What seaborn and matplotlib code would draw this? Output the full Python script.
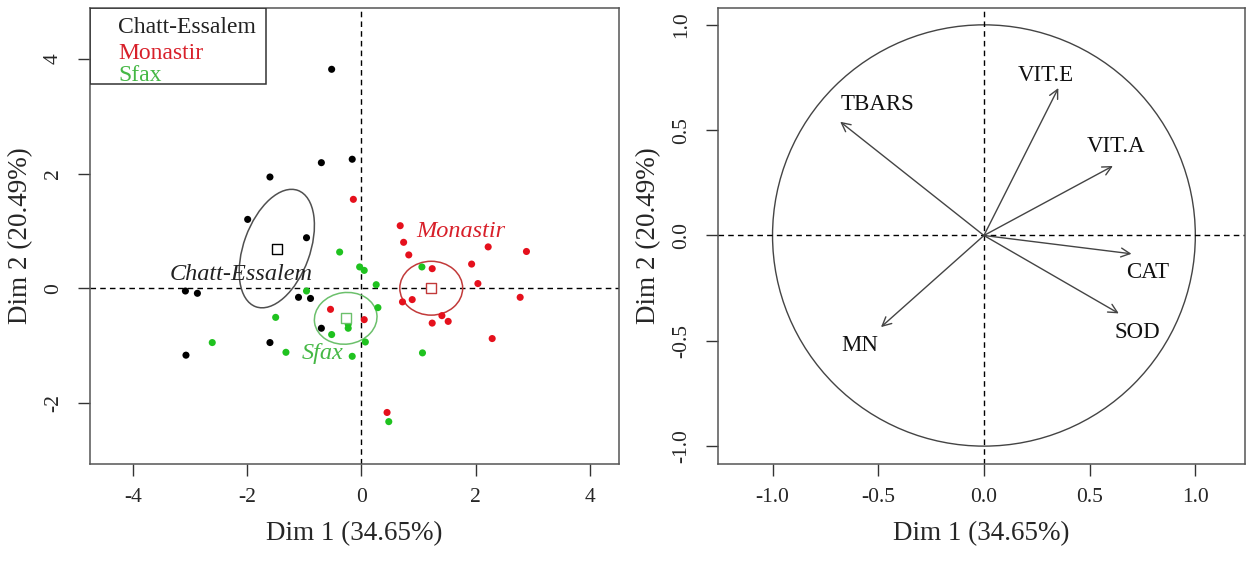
#! /usr/bin/env python3

# imports
import matplotlib.pyplot as plt
from matplotlib.patches import Ellipse, Circle, Rectangle
import seaborn as sns
import pandas as pd


# individuals factor map (Dim 1 / Dim 2 coordinates)
chatt_x = [-0.52, -0.70, -0.16, -1.60, -1.99, -0.96, -3.08, -2.87, -1.10, -0.89, -0.70, -1.60, -3.07]
chatt_y = [3.82, 2.19, 2.25, 1.94, 1.20, 0.88, -0.05, -0.09, -0.16, -0.18, -0.70, -0.95, -1.17]

monastir_x = [-0.14, 0.68, 0.74, 0.83, 2.22, 2.89, 1.93, 2.04, 2.78, 1.24,
              0.72, 0.89, 1.41, 1.52, 1.24, 2.29, 0.05, 0.45, -0.54]
monastir_y = [1.55, 1.09, 0.80, 0.58, 0.72, 0.64, 0.42, 0.08, -0.16, 0.34,
              -0.24, -0.20, -0.48, -0.58, -0.61, -0.88, -0.55, -2.17, -0.37]

sfax_x = [-0.38, -0.03, 0.05, -0.96, -1.50, -2.61, -1.32, -0.52, -0.23, -0.23,
          -0.16, 1.06, 0.26, 0.29, 0.07, 1.07, 0.48]
sfax_y = [0.63, 0.37, 0.31, -0.05, -0.51, -0.95, -1.12, -0.81, -0.63, -0.70,
          -1.19, 0.37, 0.06, -0.34, -0.94, -1.13, -2.33]

sites = ["Chatt-Essalem", "Monastir", "Sfax"]
# confidence ellipses: full width, full height, angle (deg)
ellipse_w = [2.16, 1.10, 1.10]
ellipse_h = [1.16, 0.94, 0.90]
ellipse_angle = [70, 0, 8]

# variables factor map
var_names = ["TBARS", "VIT.E", "VIT.A", "CAT", "SOD", "MN"]
var_dim1 = [-0.68, 0.352, 0.61, 0.698, 0.638, -0.487]
var_dim2 = [0.54, 0.70, 0.33, -0.087, -0.37, -0.435]
label_dim1 = [-0.504, 0.293, 0.623, 0.776, 0.726, -0.587]
label_dim2 = [0.62, 0.758, 0.423, -0.174, -0.46, -0.52]

xlab = "Dim 1 (34.65%)"
ylab = "Dim 2 (20.49%)"

# colours
point_cols = {"Chatt-Essalem": "#000000", "Monastir": "#e5101c", "Sfax": "#1fc21f"}
text_cols = {"Chatt-Essalem": "#222222", "Monastir": "#d8202a", "Sfax": "#45b845"}
ell_cols = {"Chatt-Essalem": "#505050", "Monastir": "#c23a3a", "Sfax": "#6cc06c"}
label_pos = {"Chatt-Essalem": (-2.10, 0.23), "Monastir": (1.75, 0.98), "Sfax": (-0.67, -1.14)}


def style_axis(ax):
    ax.tick_params(axis="both", direction="out", length=8.5, width=1, color="#333333",
                   labelsize=15.5)
    ax.tick_params(axis="x", pad=9)
    ax.tick_params(axis="y", pad=11)
    for lab in ax.get_yticklabels():
        lab.set_rotation(90)
        lab.set_va("center")
    for sp in ax.spines.values():
        sp.set_visible(True)
        sp.set_color("#555555")
        sp.set_linewidth(1.1)
    ax.axhline(0, color="black", lw=1, ls=(0, (4, 3)), zorder=1)
    ax.axvline(0, color="black", lw=1, ls=(0, (4, 3)), zorder=1)
    ax.set_xlabel(xlab, fontsize=19.5, labelpad=10)
    ax.set_ylabel(ylab, fontsize=19.5, labelpad=8)


def main():
    sns.set_style("ticks")
    plt.rcParams["font.family"] = ["Liberation Serif", "DejaVu Serif"]
    plt.rcParams["axes.unicode_minus"] = False

    df = pd.DataFrame({
        "dim1": chatt_x + monastir_x + sfax_x,
        "dim2": chatt_y + monastir_y + sfax_y,
        "site": [sites[0]] * len(chatt_x) + [sites[1]] * len(monastir_x) + [sites[2]] * len(sfax_x),
    })
    centres = df.groupby("site")[["dim1", "dim2"]].mean()

    fig = plt.figure(figsize=(12.5, 5.63), dpi=100)
    ax1 = fig.add_axes([0.072, 0.1758, 0.4232, 0.81])
    ax2 = fig.add_axes([0.5744, 0.1758, 0.4216, 0.81])

    # --- individuals ---
    sns.scatterplot(data=df, x="dim1", y="dim2", hue="site", palette=point_cols,
                    s=26, linewidth=0, legend=False, ax=ax1, zorder=3)
    for i, site in enumerate(sites):
        cx, cy = centres.loc[site, "dim1"], centres.loc[site, "dim2"]
        ax1.add_patch(Ellipse((cx, cy), ellipse_w[i], ellipse_h[i], angle=ellipse_angle[i],
                              fill=False, color=ell_cols[site], lw=1.1, zorder=2))
        ax1.scatter([cx], [cy], marker="s", s=48, facecolor="white",
                    edgecolor=ell_cols[site] if site != "Chatt-Essalem" else "black",
                    linewidth=1, zorder=4)
        lx, ly = label_pos[site]
        ax1.text(lx, ly, site, color=text_cols[site], style="italic", fontsize=17.5,
                 ha="center", va="center", zorder=5)

    ax1.set_xlim(-4.75, 4.51)
    ax1.set_ylim(-3.07, 4.89)
    ax1.set_xticks([-4, -2, 0, 2, 4])
    ax1.set_yticks([-2, 0, 2, 4])
    style_axis(ax1)

    # legend box, top left
    ax1.add_patch(Rectangle((0, 0.833), 0.333, 0.167, transform=ax1.transAxes,
                            fill=False, edgecolor="#333333", lw=1.1, zorder=6))
    for site, yy in zip(sites, [0.958, 0.901, 0.853]):
        ax1.text(0.053, yy, site, transform=ax1.transAxes, color=text_cols[site],
                 fontsize=17, ha="left", va="center", zorder=6)

    # --- variables ---
    ax2.add_patch(Circle((0, 0), 1, fill=False, color="#444444", lw=1))
    for name, vx, vy, tx, ty in zip(var_names, var_dim1, var_dim2, label_dim1, label_dim2):
        ax2.annotate("", xy=(vx, vy), xytext=(0, 0),
                     arrowprops=dict(arrowstyle="->", color="#444444", lw=1,
                                     mutation_scale=16, shrinkA=0, shrinkB=0))
        ax2.text(tx, ty, name, fontsize=16.5, ha="center", va="center", color="#111111")

    ax2.set_xlim(-1.258, 1.235)
    ax2.set_ylim(-1.085, 1.08)
    ax2.set_xticks([-1.0, -0.5, 0.0, 0.5, 1.0])
    ax2.set_yticks([-1.0, -0.5, 0.0, 0.5, 1.0])
    ax2.set_xticklabels(["-1.0", "-0.5", "0.0", "0.5", "1.0"])
    ax2.set_yticklabels(["-1.0", "-0.5", "0.0", "0.5", "1.0"])
    style_axis(ax2)

    fig.savefig("out.png", dpi=100)


if __name__ == "__main__":
    main()
